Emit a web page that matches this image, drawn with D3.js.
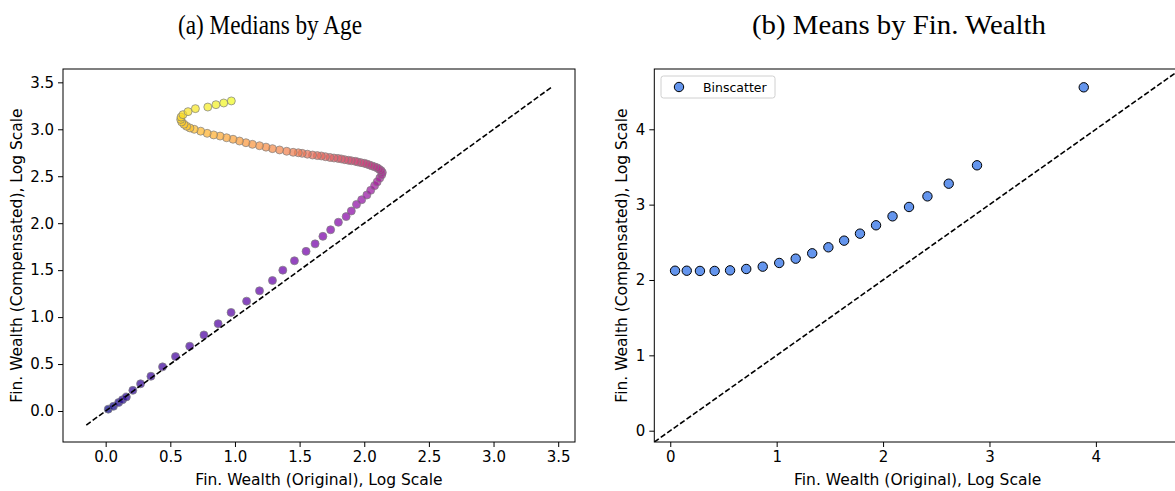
<!DOCTYPE html>
<html>
<head>
<meta charset="utf-8">
<script src="https://cdn.jsdelivr.net/npm/d3@7"></script>
<style>
  html, body { margin: 0; padding: 0; background: #fff; }
  svg { display: block; }
  .tick text { font-family: "DejaVu Sans", sans-serif; font-size: 15px; fill: #000; }
  .tick line { stroke: #000; stroke-width: 1; }
  .domain { display: none; }
</style>
</head>
<body>
<svg id="chart" width="1175" height="491"></svg>
<script>
// ---- Data: (a) medians by age (ordered by age, young -> old) ----
const ageOriginal = [0.02,0.06,0.10,0.13,0.16,0.21,0.27,0.35,0.44,0.54,0.65,0.76,0.87,0.97,1.09,1.19,1.29,1.37,1.46,1.55,1.62,1.68,1.74,1.80,1.86,1.90,1.94,1.98,2.02,2.05,2.08,2.10,2.12,2.135,2.14,2.13,2.115,2.10,2.08,2.06,2.04,2.02,2.00,1.975,1.95,1.93,1.90,1.877,1.85,1.823,1.797,1.766,1.735,1.70,1.668,1.637,1.60,1.56,1.52,1.49,1.45,1.40,1.345,1.29,1.24,1.19,1.135,1.085,1.035,0.985,0.935,0.885,0.835,0.785,0.735,0.685,0.652,0.626,0.606,0.588,0.58,0.583,0.598,0.637,0.694,0.79,0.853,0.913,0.972];
const ageCompensated = [0.02,0.05,0.09,0.12,0.15,0.22,0.29,0.37,0.47,0.58,0.69,0.81,0.93,1.05,1.17,1.28,1.39,1.50,1.60,1.70,1.78,1.86,1.93,2.01,2.07,2.13,2.20,2.25,2.30,2.35,2.40,2.44,2.48,2.515,2.54,2.56,2.575,2.59,2.60,2.61,2.62,2.63,2.638,2.645,2.652,2.659,2.665,2.67,2.676,2.684,2.69,2.694,2.70,2.708,2.716,2.72,2.726,2.735,2.744,2.75,2.755,2.766,2.78,2.794,2.81,2.825,2.84,2.857,2.875,2.894,2.91,2.928,2.94,2.957,2.98,3.00,3.014,3.032,3.053,3.078,3.105,3.13,3.156,3.188,3.22,3.237,3.262,3.28,3.302];

// ---- Data: (b) means by financial wealth (binscatter) ----
const binOriginal = [0.045,0.155,0.279,0.417,0.562,0.714,0.869,1.024,1.179,1.334,1.486,1.634,1.783,1.934,2.089,2.244,2.417,2.617,2.883,3.886];
const binCompensated = [2.123,2.123,2.120,2.120,2.128,2.146,2.177,2.226,2.283,2.354,2.434,2.522,2.615,2.726,2.845,2.969,3.110,3.278,3.522,4.557];

// ---- Ticks / texts ----
const leftTicks = [0.0,0.5,1.0,1.5,2.0,2.5,3.0,3.5];
const rightTicks = [0,1,2,3,4];
const titles = ["(a) Medians by Age", "(b) Means by Fin. Wealth"];
const xLabel = "Fin. Wealth (Original), Log Scale";
const yLabel = "Fin. Wealth (Compensated), Log Scale";
const legendLabel = "Binscatter";
const leftDiag = [-0.15, 3.45];
const rightDiag = [-0.15, 4.8];

const svg = d3.select("#chart");

function panel(opts) {
  const g = svg.append("g");
  const x = d3.scaleLinear().domain(opts.xDomain).range([opts.left, opts.right]);
  const y = d3.scaleLinear().domain(opts.yDomain).range([opts.bottom, opts.top]);

  const clipId = "clip" + opts.id;
  svg.append("clipPath").attr("id", clipId)
    .append("rect").attr("x", opts.left).attr("y", opts.top)
    .attr("width", opts.right - opts.left).attr("height", opts.bottom - opts.top);

  g.append("g").attr("transform", `translate(0,${opts.bottom})`)
    .call(d3.axisBottom(x).tickValues(opts.ticks).tickFormat(opts.fmt).tickSize(5).tickPadding(4));
  g.append("g").attr("transform", `translate(${opts.left},0)`)
    .call(d3.axisLeft(y).tickValues(opts.ticks).tickFormat(opts.fmt).tickSize(5).tickPadding(4));

  const plot = g.append("g").attr("clip-path", `url(#${clipId})`);
  opts.drawPoints(plot, x, y);

  plot.append("line")
    .attr("x1", x(opts.diag[0])).attr("y1", y(opts.diag[0]))
    .attr("x2", x(opts.diag[1])).attr("y2", y(opts.diag[1]))
    .attr("stroke", "#000").attr("stroke-width", 1.6)
    .attr("stroke-dasharray", "5.5,2.4");

  g.append("rect").attr("x", opts.left).attr("y", opts.top)
    .attr("width", opts.right - opts.left).attr("height", opts.bottom - opts.top)
    .attr("fill", "none").attr("stroke", "#000").attr("stroke-width", 1);

  g.append("text").attr("x", (opts.left + opts.right) / 2).attr("y", 485)
    .attr("text-anchor", "middle")
    .style("font-family", "DejaVu Sans, sans-serif").style("font-size", "15.5px")
    .text(xLabel);
  g.append("text")
    .attr("transform", `translate(${opts.yLabelX},${(opts.top + opts.bottom) / 2}) rotate(-90)`)
    .attr("text-anchor", "middle")
    .style("font-family", "DejaVu Sans, sans-serif").style("font-size", "15.5px")
    .text(yLabel);
  g.append("text").attr("x", opts.titleX).attr("y", 34)
    .attr("text-anchor", "middle")
    .attr("textLength", opts.titleLen).attr("lengthAdjust", "spacingAndGlyphs")
    .style("font-family", "Liberation Serif, serif").style("font-size", "27px")
    .text(opts.title);
  return {x, y, g};
}

panel({
  id: "a", left: 63, right: 575, top: 69, bottom: 442,
  xDomain: [-0.33, 3.63], yDomain: [-0.33, 3.642],
  ticks: leftTicks, fmt: d3.format(".1f"), diag: leftDiag,
  yLabelX: 22, titleX: 270, titleLen: 184, title: titles[0],
  drawPoints: (plot, x, y) => {
    const n = ageOriginal.length;
    plot.selectAll("circle.age").data(ageOriginal).join("circle")
      .attr("class", "age")
      .attr("cx", d => x(d))
      .attr("cy", (d, i) => y(ageCompensated[i]))
      .attr("r", 4.0)
      .attr("fill", (d, i) => d3.interpolatePlasma(i / (n - 1)))
      .attr("fill-opacity", 0.72)
      .attr("stroke", "#808080").attr("stroke-opacity", 0.72).attr("stroke-width", 1);
  }
});

panel({
  id: "b", left: 654.3, right: 1181, top: 69, bottom: 442,
  xDomain: [-0.15, 4.8], yDomain: [-0.15, 4.8],
  ticks: rightTicks, fmt: d3.format("d"), diag: rightDiag,
  yLabelX: 627, titleX: 899, titleLen: 294, title: titles[1],
  drawPoints: (plot, x, y) => {
    plot.selectAll("circle.bin").data(binOriginal).join("circle")
      .attr("class", "bin")
      .attr("cx", d => x(d))
      .attr("cy", (d, i) => y(binCompensated[i]))
      .attr("r", 4.7)
      .attr("fill", "#6495ED")
      .attr("stroke", "#000").attr("stroke-width", 1);
  }
});

const lg = svg.append("g");
lg.append("rect").attr("x", 661).attr("y", 76).attr("width", 114).attr("height", 22)
  .attr("rx", 2.5).attr("fill", "#fff").attr("fill-opacity", 0.8)
  .attr("stroke", "#d0d0d0").attr("stroke-width", 1);
lg.append("circle").attr("cx", 679).attr("cy", 87).attr("r", 4.7)
  .attr("fill", "#6495ED").attr("stroke", "#000").attr("stroke-width", 1);
lg.append("text").attr("x", 703).attr("y", 91.5)
  .style("font-family", "DejaVu Sans, sans-serif").style("font-size", "12.5px")
  .text(legendLabel);
</script>
</body>
</html>
